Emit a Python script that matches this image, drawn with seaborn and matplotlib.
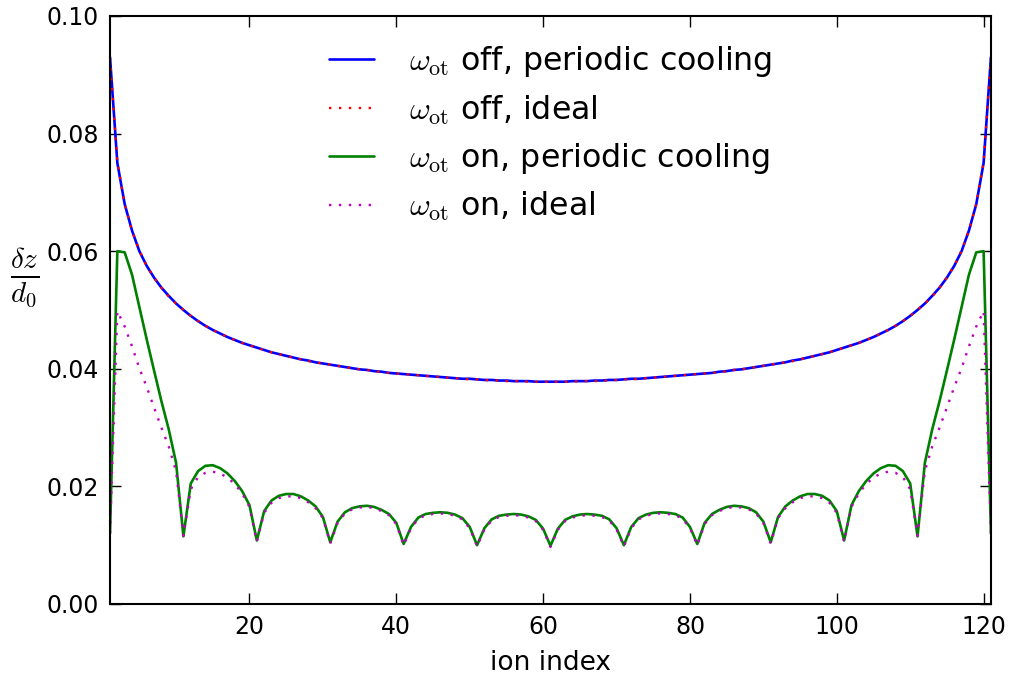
import numpy as np
import pandas as pd
import seaborn as sns
import matplotlib
matplotlib.use("Agg")
import matplotlib.pyplot as plt

# ----- data -----
ion_index = list(range(1, 122))

dz_off_periodic = [
    0.0930, 0.0750, 0.0680, 0.0635, 0.0600, 0.0575, 0.0555, 0.0538, 0.0524, 0.0511,
    0.0500, 0.0490, 0.0481, 0.0473, 0.0466, 0.0460, 0.0454, 0.0449, 0.0444, 0.0440,
    0.0436, 0.0432, 0.0428, 0.0425, 0.0422, 0.0419, 0.0416, 0.0414, 0.0411, 0.0409,
    0.0407, 0.0405, 0.0403, 0.0401, 0.0399, 0.0398, 0.0396, 0.0395, 0.0393, 0.0392,
    0.0391, 0.0390, 0.0389, 0.0388, 0.0387, 0.0386, 0.0385, 0.0384, 0.0383, 0.0383,
    0.0382, 0.0381, 0.0381, 0.0380, 0.0380, 0.0379, 0.0379, 0.0379, 0.0378, 0.0378,
    0.0378,
    0.0378, 0.0378, 0.0379, 0.0379, 0.0379, 0.0380, 0.0380, 0.0381, 0.0381, 0.0382,
    0.0383, 0.0383, 0.0384, 0.0385, 0.0386, 0.0387, 0.0388, 0.0389, 0.0390, 0.0391,
    0.0392, 0.0393, 0.0395, 0.0396, 0.0398, 0.0399, 0.0401, 0.0403, 0.0405, 0.0407,
    0.0409, 0.0411, 0.0414, 0.0416, 0.0419, 0.0422, 0.0425, 0.0428, 0.0432, 0.0436,
    0.0440, 0.0444, 0.0449, 0.0454, 0.0460, 0.0466, 0.0473, 0.0481, 0.0490, 0.0500,
    0.0511, 0.0524, 0.0538, 0.0555, 0.0575, 0.0600, 0.0635, 0.0680, 0.0750, 0.0930]

dz_off_ideal = [
    0.0928, 0.0752, 0.0680, 0.0635, 0.0601, 0.0575, 0.0555, 0.0538, 0.0523, 0.0511,
    0.0500, 0.0490, 0.0481, 0.0473, 0.0466, 0.0460, 0.0454, 0.0449, 0.0444, 0.0440,
    0.0436, 0.0432, 0.0428, 0.0425, 0.0422, 0.0419, 0.0416, 0.0413, 0.0411, 0.0409,
    0.0407, 0.0405, 0.0403, 0.0401, 0.0399, 0.0398, 0.0396, 0.0394, 0.0393, 0.0392,
    0.0391, 0.0390, 0.0389, 0.0388, 0.0387, 0.0386, 0.0385, 0.0384, 0.0383, 0.0382,
    0.0382, 0.0381, 0.0380, 0.0380, 0.0379, 0.0379, 0.0379, 0.0378, 0.0378, 0.0378,
    0.0378,
    0.0378, 0.0378, 0.0378, 0.0379, 0.0379, 0.0379, 0.0380, 0.0380, 0.0381, 0.0382,
    0.0382, 0.0383, 0.0384, 0.0385, 0.0386, 0.0387, 0.0388, 0.0389, 0.0390, 0.0391,
    0.0392, 0.0393, 0.0394, 0.0396, 0.0398, 0.0399, 0.0401, 0.0403, 0.0405, 0.0407,
    0.0409, 0.0411, 0.0413, 0.0416, 0.0419, 0.0422, 0.0425, 0.0428, 0.0432, 0.0436,
    0.0440, 0.0444, 0.0449, 0.0454, 0.0460, 0.0466, 0.0473, 0.0481, 0.0490, 0.0500,
    0.0511, 0.0523, 0.0538, 0.0555, 0.0575, 0.0601, 0.0635, 0.0680, 0.0752, 0.0928]

dz_on_periodic = [
    0.0120, 0.0600, 0.0598, 0.0560, 0.0505, 0.0450, 0.0397, 0.0345, 0.0297, 0.0240,
    0.0115, 0.0205, 0.0226, 0.0235, 0.0236, 0.0231, 0.0222, 0.0209, 0.0192, 0.0168,
    0.0108, 0.0158, 0.0176, 0.0184, 0.0187, 0.0187, 0.0183, 0.0176, 0.0166, 0.0148,
    0.0105, 0.0140, 0.0156, 0.0163, 0.0166, 0.0167, 0.0165, 0.0160, 0.0153, 0.0138,
    0.0102, 0.0131, 0.0147, 0.0153, 0.0155, 0.0156, 0.0155, 0.0152, 0.0146, 0.0131,
    0.0100, 0.0129, 0.0144, 0.0150, 0.0152, 0.0153, 0.0152, 0.0149, 0.0143, 0.0128,
    0.0099,
    0.0128, 0.0143, 0.0149, 0.0152, 0.0153, 0.0152, 0.0150, 0.0144, 0.0129, 0.0100,
    0.0131, 0.0146, 0.0152, 0.0155, 0.0156, 0.0155, 0.0153, 0.0147, 0.0131, 0.0102,
    0.0138, 0.0153, 0.0160, 0.0165, 0.0167, 0.0166, 0.0163, 0.0156, 0.0140, 0.0105,
    0.0148, 0.0166, 0.0176, 0.0183, 0.0187, 0.0187, 0.0184, 0.0176, 0.0158, 0.0108,
    0.0168, 0.0192, 0.0209, 0.0222, 0.0231, 0.0236, 0.0235, 0.0226, 0.0205, 0.0115,
    0.0240, 0.0297, 0.0345, 0.0397, 0.0450, 0.0505, 0.0560, 0.0598, 0.0600, 0.0120]

dz_on_ideal = [
    0.0120, 0.0498, 0.0472, 0.0438, 0.0401, 0.0369, 0.0334, 0.0300, 0.0268, 0.0226,
    0.0116, 0.0195, 0.0216, 0.0223, 0.0225, 0.0222, 0.0215, 0.0204, 0.0188, 0.0165,
    0.0106, 0.0155, 0.0172, 0.0180, 0.0183, 0.0183, 0.0180, 0.0173, 0.0163, 0.0146,
    0.0103, 0.0138, 0.0154, 0.0161, 0.0164, 0.0165, 0.0163, 0.0158, 0.0151, 0.0136,
    0.0100, 0.0129, 0.0145, 0.0151, 0.0153, 0.0154, 0.0153, 0.0150, 0.0144, 0.0129,
    0.0098, 0.0127, 0.0142, 0.0148, 0.0150, 0.0151, 0.0150, 0.0147, 0.0141, 0.0126,
    0.0097,
    0.0126, 0.0141, 0.0147, 0.0150, 0.0151, 0.0150, 0.0148, 0.0142, 0.0127, 0.0098,
    0.0129, 0.0144, 0.0150, 0.0153, 0.0154, 0.0153, 0.0151, 0.0145, 0.0129, 0.0100,
    0.0136, 0.0151, 0.0158, 0.0163, 0.0165, 0.0164, 0.0161, 0.0154, 0.0138, 0.0103,
    0.0146, 0.0163, 0.0173, 0.0180, 0.0183, 0.0183, 0.0180, 0.0172, 0.0155, 0.0106,
    0.0165, 0.0188, 0.0204, 0.0215, 0.0222, 0.0225, 0.0223, 0.0216, 0.0195, 0.0116,
    0.0226, 0.0268, 0.0300, 0.0334, 0.0369, 0.0401, 0.0438, 0.0472, 0.0498, 0.0120]

labels = [r"$\omega_{\rm ot}$ off, periodic cooling",
          r"$\omega_{\rm ot}$ off, ideal",
          r"$\omega_{\rm ot}$ on, periodic cooling",
          r"$\omega_{\rm ot}$ on, ideal"]

# ----- figure configuration -----
sns.set_style("white")
params = {"font.family": ["DejaVu Sans"],
          "mathtext.fontset": "cm",
          "axes.linewidth": 1.5,
          "axes.edgecolor": "black",
          "text.color": "black",
          "axes.labelcolor": "black",
          "xtick.color": "black",
          "ytick.color": "black",
          "xtick.direction": "in",
          "ytick.direction": "in"}
plt.rcParams.update(params)

fig = plt.figure(figsize=(10.12, 6.8), dpi=100)
ax = fig.add_axes([0.1087, 0.1118, 0.8705, 0.8647])

series = [dz_off_periodic, dz_off_ideal, dz_on_periodic, dz_on_ideal]
colors = ["#0000ff", "#ff0000", "#008000", "#bf00bf"]
styles = ["-", (0, (1, 3.2)), "-", (0, (1, 3.2))]
widths = [1.9, 1.7, 1.9, 1.7]

for vals, lab, col, ls, lw in zip(series, labels, colors, styles, widths):
    df = pd.DataFrame({"ion": ion_index, "dz": vals})
    sns.lineplot(data=df, x="ion", y="dz", ax=ax, color=col, linewidth=lw,
                 linestyle=ls, label=lab)

ax.set_xlim(1, 121)
ax.set_ylim(0, 0.10)
ax.set_xticks([20, 40, 60, 80, 100, 120])
ax.set_yticks([0.00, 0.02, 0.04, 0.06, 0.08, 0.10])
ax.yaxis.set_major_formatter(matplotlib.ticker.FormatStrFormatter("%.2f"))
ax.tick_params(axis="both", which="major", labelsize=17, length=8, width=1,
               color="black", pad=8, bottom=True, top=True, left=True,
               right=True)

ax.set_xlabel("ion index", fontsize=19, labelpad=8)
ax.set_ylabel(r"$\frac{\delta z}{d_0}$", fontsize=30, rotation=0)
ax.yaxis.set_label_coords(-0.0965, 0.500)

ax.legend(loc="upper center", frameon=False, fontsize=22.8, handlelength=1.45,
          handletextpad=1.1, labelspacing=0.44, borderaxespad=0.5)

fig.savefig("out.png", dpi=100)
